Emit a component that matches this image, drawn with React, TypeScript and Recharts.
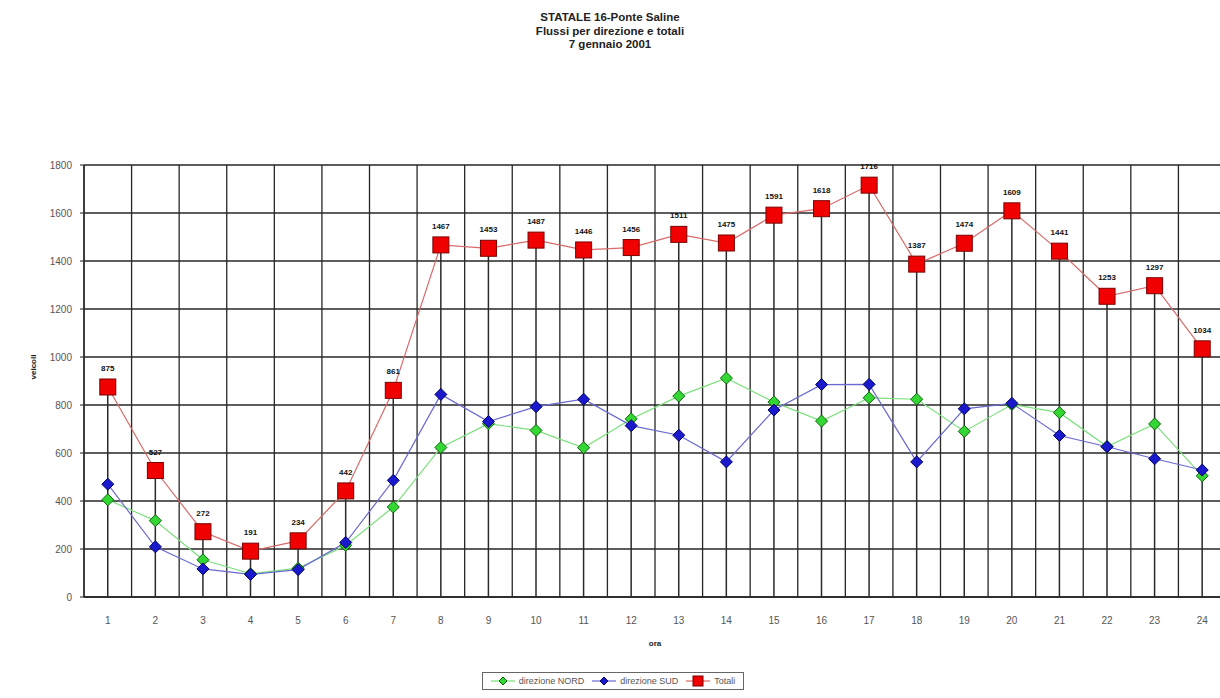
import {
  ComposedChart,
  Line,
  Bar,
  XAxis,
  YAxis,
  CartesianGrid,
  Legend,
  LabelList,
} from "recharts";

// ore del giorno
const ore = [1, 2, 3, 4, 5, 6, 7, 8, 9, 10, 11, 12, 13, 14, 15, 16, 17, 18, 19, 20, 21, 22, 23, 24];

const direzioneNord = [405, 318, 155, 97, 120, 215, 375, 623, 722, 694, 622, 742, 837, 912, 812, 733, 830, 824, 690, 802, 768, 627, 721, 505];
const direzioneSud = [470, 209, 117, 94, 114, 227, 486, 844, 731, 793, 824, 714, 674, 563, 779, 885, 886, 563, 784, 807, 673, 626, 576, 529];
const totali = [875, 527, 272, 191, 234, 442, 861, 1467, 1453, 1487, 1446, 1456, 1511, 1475, 1591, 1618, 1716, 1387, 1474, 1609, 1441, 1253, 1297, 1034];

const yTicks = [0, 200, 400, 600, 800, 1000, 1200, 1400, 1600, 1800];
// griglia verticale sui bordi delle categorie
const gridTicks = [...ore.map((o) => o - 0.5), 24.5];

const data = ore.map((ora, i) => ({
  ora,
  nord: direzioneNord[i],
  sud: direzioneSud[i],
  totali: totali[i],
}));

const Diamond = ({ cx, cy, fill, stroke, r = 6 }: any) => (
  <path
    d={`M${cx},${cy - r} L${cx + r},${cy} L${cx},${cy + r} L${cx - r},${cy} Z`}
    fill={fill}
    stroke={stroke}
    strokeWidth={1}
  />
);

const Square = ({ cx, cy, s = 8 }: any) => (
  <rect x={cx - s} y={cy - s} width={s * 2} height={s * 2} fill="#f00000" stroke="#7a0000" strokeWidth={1} />
);

const legendItems = [
  { key: "nord", label: "direzione NORD", line: "#7be07b" },
  { key: "sud", label: "direzione SUD", line: "#6a6ad0" },
  { key: "totali", label: "Totali", line: "#d86a6a" },
];

function LegendBox() {
  return (
    <div
      style={{
        display: "inline-flex",
        alignItems: "center",
        gap: 8,
        border: "1px solid #666",
        padding: "2px 8px",
        fontFamily: "Arial, 'Liberation Sans', sans-serif",
        fontSize: 9,
        color: "#555",
        background: "#fff",
      }}
    >
      {legendItems.map((it) => (
        <span key={it.key} style={{ display: "inline-flex", alignItems: "center", gap: 4 }}>
          <svg width={24} height={12}>
            <line x1={0} y1={6} x2={24} y2={6} stroke={it.line} strokeWidth={1.2} />
            {it.key === "nord" && <Diamond cx={12} cy={6} r={4} fill="#33d633" stroke="#0a660a" />}
            {it.key === "sud" && <Diamond cx={12} cy={6} r={4} fill="#1a1acc" stroke="#000066" />}
            {it.key === "totali" && <Square cx={12} cy={6} s={5} />}
          </svg>
          {it.label}
        </span>
      ))}
    </div>
  );
}

const boundaryLines = ({ xAxis, offset }: any) => {
  if (xAxis && typeof xAxis.scale === "function") {
    return gridTicks.map((t) => xAxis.scale(t));
  }
  return gridTicks.map((t) => offset.left + ((t - 0.5) / 24) * offset.width);
};

export default function App() {
  return (
    <div
      style={{
        position: "absolute",
        left: 0,
        top: 0,
        width: 1220,
        height: 698,
        overflow: "hidden",
        background: "#fff",
        fontFamily: "Arial, 'Liberation Sans', sans-serif",
      }}
    >
      <div
        style={{
          position: "absolute",
          top: 11,
          left: 0,
          width: 1220,
          textAlign: "center",
          fontWeight: "bold",
          fontSize: 11.5,
          lineHeight: "13.5px",
          color: "#222",
        }}
      >
        STATALE 16-Ponte Saline
        <br />
        Flussi per direzione e totali
        <br />7 gennaio 2001
      </div>
      <div
        style={{
          position: "absolute",
          left: 33,
          top: 367,
          transform: "translate(-50%, -50%) rotate(-90deg)",
          fontSize: 8,
          fontWeight: "bold",
          color: "#222",
          zIndex: 2,
        }}
      >
        veicoli
      </div>
      <ComposedChart
        width={1232}
        height={698}
        data={data}
        margin={{ top: 165, right: 6, bottom: 24, left: 34 }}
        style={{ position: "absolute", left: 0, top: 0 }}
      >
        <CartesianGrid stroke="#262626" strokeWidth={1.3} verticalCoordinatesGenerator={boundaryLines} />
        <XAxis
          dataKey="ora"
          type="number"
          domain={[0.5, 24.5]}
          ticks={ore}
          interval={0}
          height={55}
          axisLine={{ stroke: "#222", strokeWidth: 1.3 }}
          tickLine={false}
          tickMargin={14}
          tick={{ fontSize: 10, fill: "#555" }}
          label={{ value: "ora", position: "insideBottom", offset: 6, fontSize: 8, fontWeight: "bold", fill: "#222" }}
        />
        <YAxis
          domain={[0, 1800]}
          ticks={yTicks}
          width={50}
          axisLine={{ stroke: "#222", strokeWidth: 1.3 }}
          tickLine={{ stroke: "#222" }}
          tickSize={4}
          tickMargin={8}
          tick={{ fontSize: 10, fill: "#555" }}
        />
        <Bar dataKey="totali" barSize={1.5} fill="#2a2a2a" isAnimationActive={false} legendType="none" />
        <Line
          dataKey="nord"
          name="direzione NORD"
          stroke="#7be07b"
          strokeWidth={1.2}
          isAnimationActive={false}
          dot={(p: any) => <Diamond key={`n${p.index}`} cx={p.cx} cy={p.cy} r={6} fill="#33d633" stroke="#0a660a" />}
        />
        <Line
          dataKey="sud"
          name="direzione SUD"
          stroke="#6a6ad0"
          strokeWidth={1.2}
          isAnimationActive={false}
          dot={(p: any) => <Diamond key={`s${p.index}`} cx={p.cx} cy={p.cy} r={6} fill="#1a1acc" stroke="#000066" />}
        />
        <Line
          dataKey="totali"
          name="Totali"
          stroke="#d86a6a"
          strokeWidth={1.2}
          isAnimationActive={false}
          dot={(p: any) => <Square key={`t${p.index}`} cx={p.cx} cy={p.cy} s={8} />}
        >
          <LabelList dataKey="totali" position="top" offset={16} fontSize={8} fontWeight="bold" fill="#111" />
        </Line>
        <Legend
          verticalAlign="bottom"
          align="center"
          height={22}
          wrapperStyle={{ bottom: 4, left: 0, width: 1226, textAlign: "center" }}
          content={() => <LegendBox />}
        />
      </ComposedChart>
    </div>
  );
}
